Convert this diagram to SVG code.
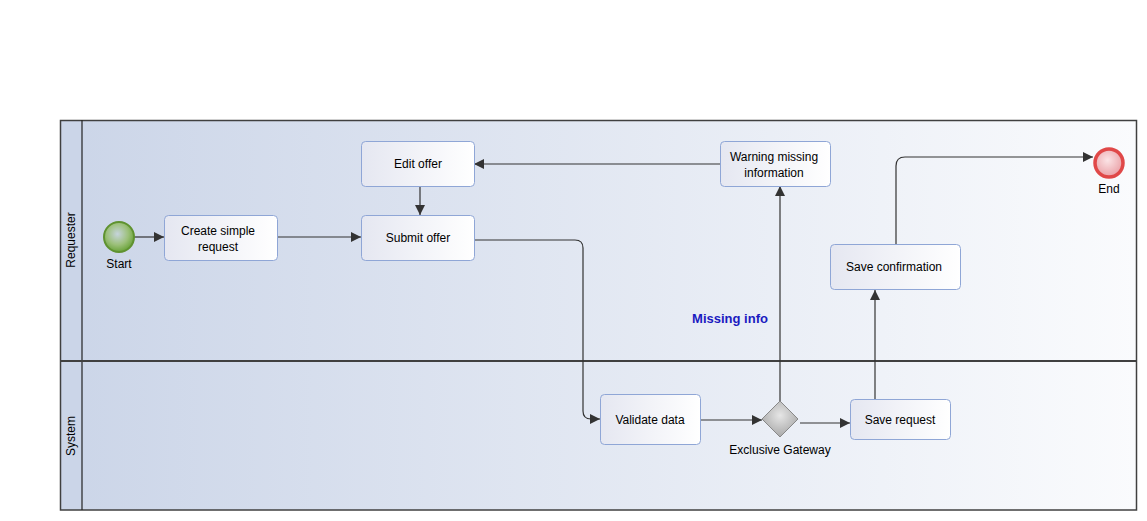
<svg xmlns="http://www.w3.org/2000/svg" width="1147" height="521" viewBox="0 0 1147 521">
<style>
.t{font-family:"Liberation Sans",Arial,sans-serif;font-size:12px;fill:#000;text-anchor:middle}
.task{fill:url(#taskG);stroke:#8fa6d6;stroke-width:1}
.c{fill:none;stroke:#333;stroke-width:1.2;marker-end:url(#ah)}
.lane{font-family:"Liberation Sans",Arial,sans-serif;font-size:12px;fill:#000;text-anchor:middle}
</style>
<defs>
<linearGradient id="bg" x1="0" y1="0" x2="1" y2="0">
<stop offset="0" stop-color="#cbd5e8"/>
<stop offset="1" stop-color="#fafbfd"/>
</linearGradient>
<linearGradient id="taskG" x1="0" y1="0" x2="1" y2="0">
<stop offset="0" stop-color="#e5e7f1"/>
<stop offset="1" stop-color="#ffffff"/>
</linearGradient>
<radialGradient id="startG" cx="0.45" cy="0.4" r="0.6">
<stop offset="0" stop-color="#c6d4dc"/>
<stop offset="0.6" stop-color="#9cc07a"/>
<stop offset="1" stop-color="#6aa33a"/>
</radialGradient>
<radialGradient id="endG" cx="0.45" cy="0.4" r="0.6">
<stop offset="0" stop-color="#fbe4e6"/>
<stop offset="1" stop-color="#eaa0a6"/>
</radialGradient>
<radialGradient id="gwG" cx="0.5" cy="0.4" r="0.6">
<stop offset="0" stop-color="#e6e6e6"/>
<stop offset="1" stop-color="#a8a8a8"/>
</radialGradient>
<marker id="ah" viewBox="0 0 10 10" refX="10" refY="5" markerWidth="10" markerHeight="10" markerUnits="userSpaceOnUse" orient="auto">
<path d="M0,0 L10,5 L0,10 z" fill="#333"/>
</marker>
</defs>

<g id="pool">
<rect x="60" y="120" width="1077" height="390" fill="url(#bg)"/>
<rect x="60" y="120" width="22" height="390" fill="#cbd5e8"/>
<rect x="60.5" y="120.5" width="1076" height="389.5" fill="none" stroke="#404040" stroke-width="1.5"/>
<line x1="82" y1="120" x2="82" y2="510" stroke="#222" stroke-width="1.2"/>
<line x1="60" y1="361" x2="1137" y2="361" stroke="#404040" stroke-width="2"/>
<text class="lane" transform="translate(75,240) rotate(-90)">Requester</text>
<text class="lane" transform="translate(75,436) rotate(-90)">System</text>
</g>

<g id="connectors">
<line class="c" x1="134" y1="237" x2="164" y2="237"/>
<line class="c" x1="277" y1="237" x2="361" y2="237"/>
<line class="c" x1="420" y1="186" x2="420" y2="215"/>
<line class="c" x1="720" y1="164" x2="474" y2="164"/>
<path class="c" d="M474,240 H575 Q583,240 583,248 V411 Q583,419 591,419 H600"/>
<line class="c" x1="700" y1="420" x2="762" y2="420"/>
<line class="c" x1="780" y1="401" x2="780" y2="186"/>
<line class="c" x1="800" y1="423" x2="850" y2="423"/>
<line class="c" x1="875" y1="399" x2="875" y2="290"/>
<path class="c" d="M896,244 V166 Q896,157 905,157 H1093"/>
<text x="730" y="323" font-family="'Liberation Sans',Arial,sans-serif" font-size="13" font-weight="bold" fill="#1a1ac0" text-anchor="middle">Missing info</text>
</g>

<g id="start">
<circle cx="119" cy="237" r="15" fill="url(#startG)" stroke="#5f9230" stroke-width="2"/>
<text class="t" x="119" y="268">Start</text>
</g>

<g id="create">
<rect class="task" x="164.5" y="215.5" width="113" height="45" rx="4"/>
<text class="t" x="218" y="235">Create simple</text>
<text class="t" x="218" y="251">request</text>
</g>

<g id="edit">
<rect class="task" x="361.5" y="141.5" width="113" height="45" rx="4"/>
<text class="t" x="418" y="168">Edit offer</text>
</g>

<g id="submit">
<rect class="task" x="361.5" y="215.5" width="113" height="45" rx="4"/>
<text class="t" x="418" y="242">Submit offer</text>
</g>

<g id="warning">
<rect class="task" x="720.5" y="141.5" width="110" height="45" rx="4"/>
<text class="t" x="774" y="161">Warning missing</text>
<text class="t" x="774" y="177">information</text>
</g>

<g id="saveconf">
<rect class="task" x="830.5" y="244.5" width="130" height="45" rx="4"/>
<text class="t" x="894" y="271">Save confirmation</text>
</g>

<g id="end">
<circle cx="1109" cy="163" r="14" fill="url(#endG)" stroke="#e04848" stroke-width="3.5"/>
<text class="t" x="1109" y="193">End</text>
</g>

<g id="validate">
<rect class="task" x="600.5" y="394.5" width="100" height="50" rx="4"/>
<text class="t" x="650" y="424">Validate data</text>
</g>

<g id="gateway">
<path d="M780,401 L798,419 L780,437 L762,419 z" fill="url(#gwG)" stroke="#888" stroke-width="1"/>
<text class="t" x="780" y="454">Exclusive Gateway</text>
</g>

<g id="saverequest">
<rect class="task" x="850.5" y="399.5" width="100" height="40" rx="4"/>
<text class="t" x="900" y="424">Save request</text>
</g>
</svg>
